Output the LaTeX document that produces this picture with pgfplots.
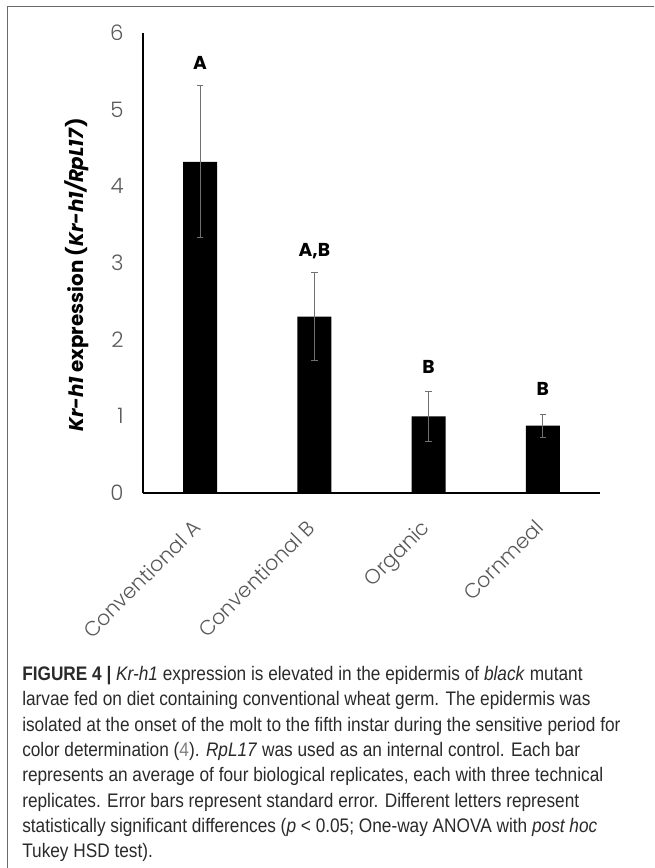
\documentclass[border=0pt]{standalone}
\usepackage{pgfplots}
\pgfplotsset{compat=1.18}
\usepackage{fontspec}
\setmainfont{Poppins}
\newfontfamily\capfont[FakeStretch=0.88]{Liberation Sans}
\newfontfamily\lightfont{Poppins Light}
\definecolor{tickgray}{HTML}{595959}
\definecolor{capgray}{HTML}{2A2A2A}
\definecolor{framegray}{HTML}{6A6A6A}
\definecolor{errgray}{HTML}{707070}
\begin{document}
\begin{tikzpicture}
\useasboundingbox (0,0) rectangle (490.5pt,651pt);
\draw[framegray, line width=0.8pt] (5.6pt,0pt) -- (5.6pt,646.1pt) -- (490.5pt,646.1pt);
\begin{axis}[
  at={(107.25pt,281.25pt)}, anchor=south west,
  scale only axis, width=342.75pt, height=345pt,
  xmin=-0.5, xmax=3.5, ymin=0, ymax=6,
  ybar, bar width=25.5pt,
  axis x line=bottom, axis y line=left,
  axis line style={-, black, line width=1.5pt},
  xtick={0,1,2,3},
  xticklabels={Conventional A, Conventional B, Organic, Cornmeal},
  ytick={0,1,2,3,4,5,6},
  major tick length=0pt,
  /pgf/number format/assume math mode=true,
  yticklabel style={font=\lightfont\fontsize{16}{16}\selectfont, text=tickgray, xshift=-11pt},
  xticklabel style={rotate=45, anchor=north east, inner sep=0pt, font=\lightfont\fontsize{15.5}{15.5}\selectfont, text=tickgray, xshift=-18pt, yshift=-8.5pt},
  clip=false,
]
\addplot[fill=black, draw=none,
  error bars/.cd, y dir=both, y explicit,
  error bar style={errgray, line width=0.7pt},
  error mark options={rotate=90, errgray, mark size=2.5pt, line width=0.7pt}]
  table[x=x, y=y, y error=e] {
x y e
0 4.32 0.99
1 2.30 0.57
2 1.00 0.33
3 0.88 0.15
};
\node[font=\bfseries\fontsize{14}{14}\selectfont] at (axis cs:0,5.61) {A};
\node[font=\bfseries\fontsize{14}{14}\selectfont] at (axis cs:1,3.15) {A,B};
\node[font=\bfseries\fontsize{14}{14}\selectfont] at (axis cs:2,1.64) {B};
\node[font=\bfseries\fontsize{14}{14}\selectfont] at (axis cs:3,1.36) {B};
\end{axis}
\node[rotate=90, inner sep=0pt, font=\bfseries\fontsize{14.9}{14.9}\selectfont] at (57.75pt,444.75pt) {\textit{Kr-h1} expression (\textit{Kr-h1/RpL17})};
\node[anchor=north west, inner sep=0pt, align=left, text=capgray,
  font=\capfont\fontsize{14.7}{19}\selectfont] at (16.5pt,151.5pt) {%
\textbf{FIGURE 4 |} \textit{Kr-h1} expression is elevated in the epidermis of \textit{black} mutant\\
larvae fed on diet containing conventional wheat germ. The epidermis was\\
isolated at the onset of the molt to the fifth instar during the sensitive period for\\
color determination ({\color{gray}4}). \textit{RpL17} was used as an internal control. Each bar\\
represents an average of four biological replicates, each with three technical\\
replicates. Error bars represent standard error. Different letters represent\\
statistically significant differences (\textit{p} < 0.05; One-way ANOVA with \textit{post hoc}\\
Tukey HSD test).};
\end{tikzpicture}
\end{document}
